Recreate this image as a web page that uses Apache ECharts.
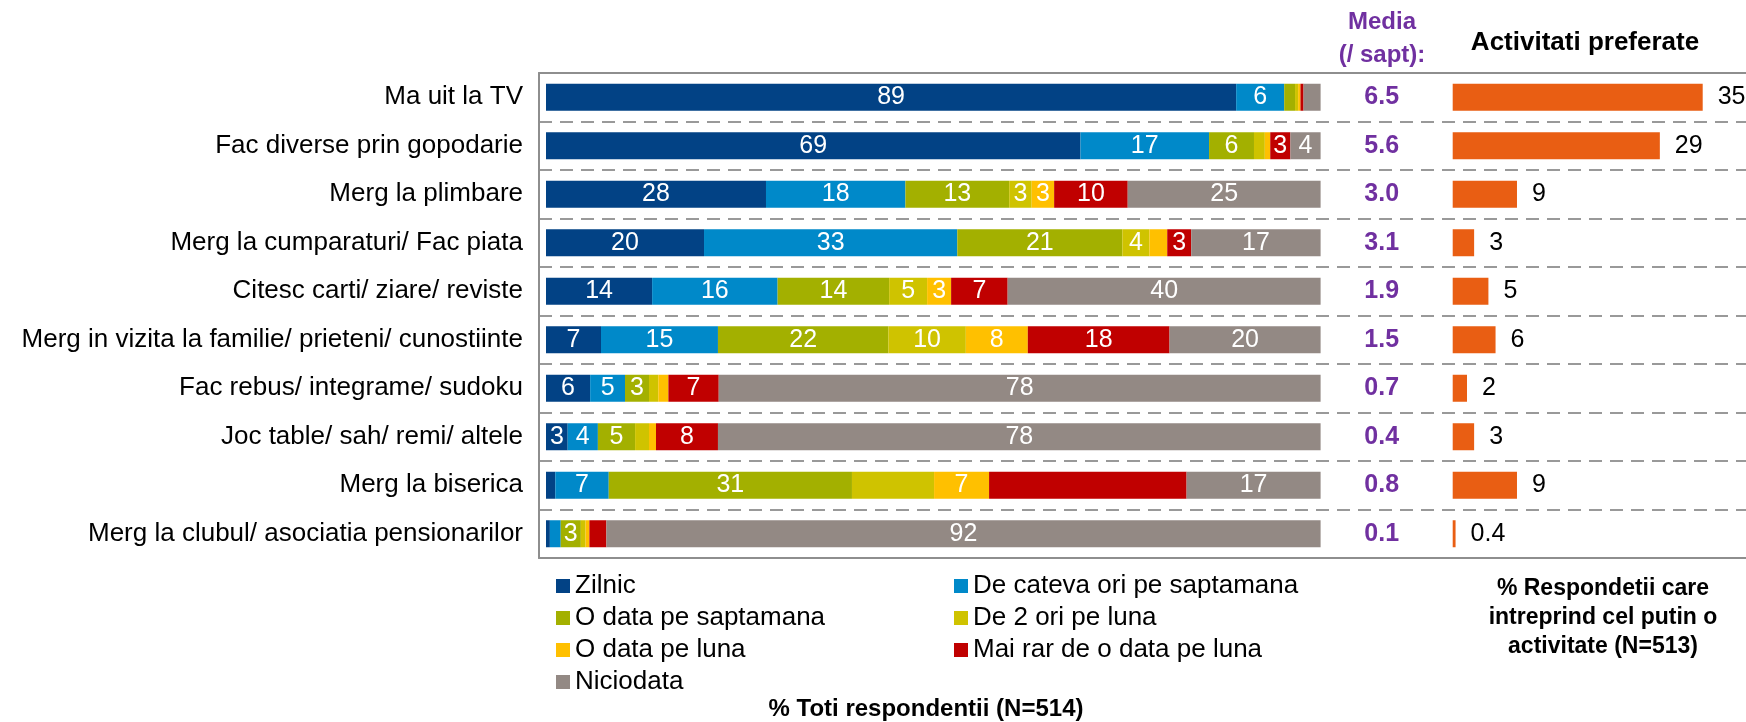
<!DOCTYPE html>
<html>
<head>
<meta charset="utf-8">
<title>Activitati</title>
<script src="https://cdn.jsdelivr.net/npm/echarts@6/dist/echarts.min.js"></script>
<style>
  body{ margin:0; background:#fff; }
  #chart{ width:1746px; height:722px; }
</style>
</head>
<body>
<div id="chart"></div>
<script>
// categorii (de sus in jos)
const activitati = [
  'Ma uit la TV',
  'Fac diverse prin gopodarie',
  'Merg la plimbare',
  'Merg la cumparaturi/ Fac piata',
  'Citesc carti/ ziare/ reviste',
  'Merg in vizita la familie/ prieteni/ cunostiinte',
  'Fac rebus/ integrame/ sudoku',
  'Joc table/ sah/ remi/ altele',
  'Merg la biserica',
  'Merg la clubul/ asociatia pensionarilor'
]

// % toti respondentii, pe frecvente
const zilnic    = [89.1, 69,   28.4, 20.4, 13.7, 7.1,  5.7,  2.8,  1.2,  0.5]
const cateva    = [6.2,  16.6, 18,   32.7, 16.2, 15.1, 4.5,  3.9,  6.9,  1.4]
const oSapt     = [1.4,  5.8,  13.4, 21.3, 14.4, 22,   3.1,  4.8,  31.4, 2.6]
const douaLuna  = [0.4,  1.4,  2.9,  3.5,  4.9,  10,   1.2,  1.8,  10.6, 0.6]
const oLuna     = [0.3,  0.7,  2.9,  2.3,  3.1,  8,    1.3,  0.9,  7.1,  0.5]
const maiRar    = [0.4,  2.6,  9.5,  3.1,  7.3,  18.3, 6.5,  8,    25.5, 2.2]
const niciodata = [2.2,  3.9,  24.9, 16.7, 40.4, 19.5, 77.7, 77.8, 17.3, 92.2]

// media pe saptamana
const media = [6.5, 5.6, 3.0, 3.1, 1.9, 1.5, 0.7, 0.4, 0.8, 0.1]
// activitati preferate (%)
const preferate = [35, 29, 9, 3, 5, 6, 2, 3, 9, 0.4]

// etichete care lipsesc in original (serie-rand)
const etichetaAscunsa = ['3-8', '5-8']

const frecvente = [
  { name: 'Zilnic', data: zilnic, color: '#024285' },
  { name: 'De cateva ori pe saptamana', data: cateva, color: '#0089c9' },
  { name: 'O data pe saptamana', data: oSapt, color: '#a3b000' },
  { name: 'De 2 ori pe luna', data: douaLuna, color: '#cfc300' },
  { name: 'O data pe luna', data: oLuna, color: '#ffc000' },
  { name: 'Mai rar de o data pe luna', data: maiRar, color: '#c00000' },
  { name: 'Niciodata', data: niciodata, color: '#938984' }
]

const FONT = '"Liberation Sans", Arial, sans-serif'
const PURPLE = '#7030a0'
const TOP = 73, HEIGHT = 485

const myecharts = echarts.init(document.getElementById('chart'))

const series = frecvente.map((f, si) => ({
  name: f.name,
  type: 'bar',
  stack: 'total',
  xAxisIndex: 0,
  yAxisIndex: 0,
  barWidth: 27,
  data: f.data,
  itemStyle: { color: f.color },
  label: {
    show: true,
    position: 'inside',
    color: '#fff',
    fontSize: 25,
    fontFamily: FONT,
    formatter: p => {
      if (p.value < 2.5 || etichetaAscunsa.includes(si + '-' + p.dataIndex)) return ''
      return Math.round(p.value)
    }
  }
}))

series.push({
  name: 'Activitati preferate',
  type: 'bar',
  xAxisIndex: 1,
  yAxisIndex: 1,
  barWidth: 27,
  data: preferate,
  itemStyle: { color: '#e95e13' },
  label: {
    show: true,
    position: 'right',
    distance: 15,
    color: '#000',
    fontSize: 25,
    fontFamily: FONT
  }
})

const legendText = { color: '#000', fontSize: 26, lineHeight: 26, fontFamily: FONT }

const option = {
  animation: false,
  textStyle: { fontFamily: FONT },
  grid: [
    // bare stivuite
    { left: 546, width: 774.6, top: TOP, height: HEIGHT },
    // activitati preferate
    { left: 1452.7, width: 250, top: TOP, height: HEIGHT },
    // cadrul + liniile punctate
    { left: 539, right: 0, top: TOP, height: HEIGHT }
  ],
  xAxis: [
    { gridIndex: 0, type: 'value', min: 0, max: 100, show: false },
    { gridIndex: 1, type: 'value', min: 0, max: 35, show: false },
    {
      gridIndex: 2, type: 'value', min: 0, max: 1, position: 'top',
      axisLine: { show: true, lineStyle: { color: '#8e8e8e', width: 2 } },
      axisTick: { show: false }, axisLabel: { show: false }, splitLine: { show: false }
    },
    {
      gridIndex: 2, type: 'value', min: 0, max: 1, position: 'bottom',
      axisLine: { show: true, lineStyle: { color: '#8e8e8e', width: 2 } },
      axisTick: { show: false }, axisLabel: { show: false }, splitLine: { show: false }
    }
  ],
  yAxis: [
    {
      gridIndex: 0, type: 'category', data: activitati, inverse: true,
      axisLine: { show: false }, axisTick: { show: false },
      axisLabel: { color: '#000', fontSize: 26, margin: 23, fontFamily: FONT }
    },
    {
      // media / sapt afisata ca etichete ale axei
      gridIndex: 1, type: 'category', data: activitati, inverse: true,
      axisLine: { show: false }, axisTick: { show: false },
      axisLabel: {
        color: PURPLE, fontSize: 25, fontWeight: 'bold', margin: 71, align: 'center',
        fontFamily: FONT,
        formatter: (v, i) => media[i].toFixed(1)
      }
    },
    {
      gridIndex: 2, type: 'category', data: activitati, inverse: true,
      axisLine: { show: true, lineStyle: { color: '#8e8e8e', width: 2 } },
      axisTick: { show: false }, axisLabel: { show: false },
      splitLine: { show: true, interval: 0, lineStyle: { color: '#999', width: 2, type: [13, 8] } }
    }
  ],
  legend: [
    {
      data: ['Zilnic', 'O data pe saptamana', 'O data pe luna', 'Niciodata'],
      orient: 'vertical', left: 551, top: 568, itemWidth: 14, itemHeight: 14, itemGap: 6,
      icon: 'rect', selectedMode: false, textStyle: legendText
    },
    {
      data: ['De cateva ori pe saptamana', 'De 2 ori pe luna', 'Mai rar de o data pe luna'],
      orient: 'vertical', left: 949, top: 568, itemWidth: 14, itemHeight: 14, itemGap: 6,
      icon: 'rect', selectedMode: false, textStyle: legendText
    }
  ],
  graphic: [
    {
      type: 'text', x: 1382, y: 39,
      style: { text: 'Media\n(/ sapt):', align: 'center', verticalAlign: 'middle',
        fill: PURPLE, fontSize: 24, fontWeight: 'bold', lineHeight: 33, fontFamily: FONT }
    },
    {
      type: 'text', x: 1585, y: 43,
      style: { text: 'Activitati preferate', align: 'center', verticalAlign: 'middle',
        fill: '#000', fontSize: 26, fontWeight: 'bold', fontFamily: FONT }
    },
    {
      type: 'text', x: 926, y: 709,
      style: { text: '% Toti respondentii (N=514)', align: 'center', verticalAlign: 'middle',
        fill: '#000', fontSize: 24, fontWeight: 'bold', fontFamily: FONT }
    },
    {
      type: 'text', x: 1603, y: 618,
      style: { text: '% Respondetii care\nintreprind cel putin o\nactivitate (N=513)',
        align: 'center', verticalAlign: 'middle', lineHeight: 29,
        fill: '#000', fontSize: 23, fontWeight: 'bold', fontFamily: FONT }
    }
  ],
  series: series
}

option && myecharts.setOption(option)
</script>
</body>
</html>
